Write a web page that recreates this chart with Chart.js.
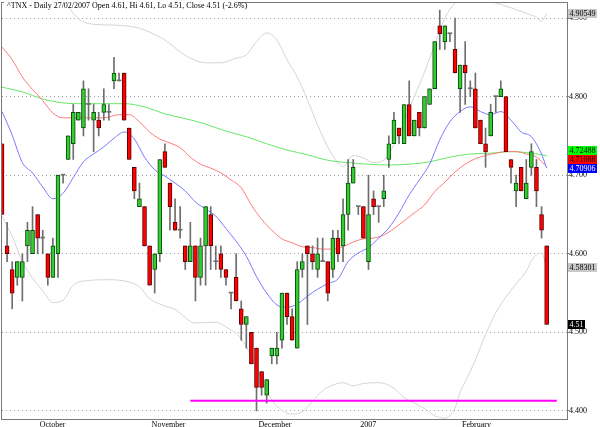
<!DOCTYPE html>
<html>
<head>
<meta charset="utf-8">
<script src="https://cdn.jsdelivr.net/npm/chart.js@4.4.1/dist/chart.umd.min.js"></script>
<style>
  html, body { margin: 0; padding: 0; background: #fff; }
  canvas { display: block; }
</style>
</head>
<body>
<canvas id="tnx" width="600" height="427"></canvas>
<script>
// trading days shown, plus a few empty slots on the right
const dates = [
  '21/09','22/09','25/09','26/09','27/09','28/09','29/09',
  '02/10','03/10','04/10','05/10','06/10','09/10','10/10','11/10','12/10','13/10','16/10','17/10','18/10','19/10','20/10','23/10','24/10','25/10','26/10','27/10','30/10','31/10',
  '01/11','02/11','03/11','06/11','07/11','08/11','09/11','10/11','13/11','14/11','15/11','16/11','17/11','20/11','21/11','22/11','24/11','27/11','28/11','29/11','30/11',
  '01/12','04/12','05/12','06/12','07/12','08/12','11/12','12/12','13/12','14/12','15/12','18/12','19/12','20/12','21/12','22/12','26/12','27/12','28/12','29/12',
  '03/01','04/01','05/01','08/01','09/01','10/01','11/01','12/01','16/01','17/01','18/01','19/01','22/01','23/01','24/01','25/01','26/01','29/01','30/01','31/01',
  '01/02','02/02','05/02','06/02','07/02','08/02','09/02','12/02','13/02','14/02','15/02','16/02','20/02','21/02','22/02','23/02','26/02','27/02',
  '28/02','01/03','02/03','05/03'
];

const open = [4.74,4.61,4.58,4.57,4.57,4.61,4.60,4.65,4.62,4.60,4.57,4.60,4.70,4.72,4.74,4.77,4.76,4.79,4.77,4.77,
  4.78,4.78,4.82,4.82,4.83,4.76,4.71,4.66,4.66,4.61,4.58,4.60,4.73,4.69,4.64,4.63,4.61,4.59,4.61,4.57,
  4.61,4.65,4.59,4.60,4.58,4.55,4.57,4.53,4.51,4.50,4.48,4.45,4.42,4.47,4.47,4.49,4.55,4.52,4.48,4.58,
  4.61,4.60,4.58,4.59,4.59,4.58,4.62,4.61,4.65,4.69,4.66,4.66,4.59,4.67,4.66,4.67,4.72,4.74,4.76,4.74,
  4.79,4.75,4.78,4.76,4.79,4.81,4.89,4.87,4.88,4.86,4.81,4.84,4.81,4.81,4.77,4.74,4.75,4.80,4.80,4.80,
  4.72,4.68,4.71,4.67,4.71,4.71,4.65,4.61];
const high = [4.74,4.64,4.59,4.59,4.60,4.64,4.66,4.65,4.63,4.60,4.62,4.70,4.70,4.75,4.79,4.78,4.82,4.81,4.79,4.78,
  4.81,4.79,4.85,4.83,4.83,4.76,4.71,4.69,4.66,4.61,4.60,4.72,4.74,4.69,4.67,4.66,4.61,4.64,4.61,4.62,
  4.66,4.66,4.61,4.61,4.58,4.55,4.60,4.54,4.52,4.50,4.48,4.45,4.44,4.48,4.50,4.55,4.55,4.53,4.59,4.60,
  4.61,4.61,4.62,4.62,4.59,4.63,4.63,4.67,4.72,4.72,4.66,4.66,4.70,4.68,4.66,4.70,4.75,4.78,4.76,4.79,
  4.82,4.77,4.78,4.80,4.81,4.87,4.91,4.89,4.88,4.90,4.84,4.87,4.82,4.83,4.77,4.76,4.79,4.80,4.82,4.80,
  4.72,4.70,4.71,4.72,4.74,4.72,4.66,4.61];
const low = [4.65,4.59,4.53,4.56,4.54,4.59,4.60,4.60,4.60,4.56,4.57,4.57,4.69,4.72,4.72,4.77,4.75,4.77,4.73,4.75,
  4.77,4.77,4.81,4.82,4.77,4.72,4.67,4.66,4.61,4.56,4.55,4.59,4.71,4.63,4.63,4.62,4.58,4.59,4.54,4.56,
  4.56,4.58,4.58,4.57,4.56,4.53,4.54,4.49,4.48,4.46,4.40,4.42,4.41,4.46,4.46,4.48,4.51,4.49,4.48,4.57,
  4.51,4.58,4.57,4.59,4.54,4.57,4.59,4.59,4.63,4.69,4.65,4.62,4.58,4.65,4.64,4.66,4.71,4.74,4.74,4.74,
  4.75,4.75,4.75,4.76,4.79,4.81,4.86,4.86,4.87,4.83,4.78,4.79,4.80,4.76,4.74,4.71,4.75,4.78,4.80,4.73,
  4.69,4.66,4.68,4.67,4.70,4.66,4.62,4.51];
const close = [4.65,4.60,4.55,4.59,4.59,4.63,4.63,4.62,4.62,4.57,4.61,4.70,4.70,4.75,4.78,4.78,4.81,4.79,4.78,4.76,
  4.79,4.78,4.83,4.82,4.77,4.72,4.68,4.67,4.61,4.56,4.60,4.72,4.71,4.66,4.63,4.63,4.59,4.61,4.57,4.61,
  4.66,4.61,4.59,4.58,4.57,4.55,4.54,4.51,4.52,4.46,4.43,4.43,4.44,4.48,4.48,4.55,4.52,4.49,4.58,4.59,
  4.60,4.59,4.60,4.59,4.55,4.62,4.60,4.65,4.69,4.71,4.66,4.62,4.65,4.66,4.66,4.68,4.74,4.77,4.75,4.79,
  4.75,4.77,4.76,4.80,4.81,4.87,4.88,4.89,4.88,4.83,4.84,4.83,4.81,4.76,4.74,4.73,4.78,4.80,4.81,4.73,
  4.71,4.69,4.68,4.69,4.73,4.68,4.63,4.51];

// overlays, read at the listed day positions
const blueAt = [0,2,4,6,8,10,12,14,16,18,20,22,24,26,28,30,32,34,36,38,40,42,44,46,48,50,52,54,56,58,60,62,64,66,68,70,72,74,76,78,80,82,84,86,88,90,92,94,96,98,100,102,104,106,107];
const blueVal = [4.781,4.751,4.716,4.703,4.685,4.670,4.677,4.697,4.717,4.727,4.736,4.747,4.755,4.746,4.723,4.707,4.699,4.690,4.680,4.666,
  4.657,4.648,4.632,4.616,4.597,4.571,4.550,4.535,4.532,4.536,4.546,4.555,4.562,4.568,4.590,4.601,4.608,4.620,4.633,4.652,
  4.675,4.694,4.714,4.745,4.768,4.781,4.787,4.781,4.777,4.781,4.770,4.755,4.749,4.727,4.70906];
const redAt = [0,2,4,6,8,10,12,16,20,23,25,27,29,31,33,35,37,39,41,43,45,47,49,51,53,55,57,59,61,63,65,67,69,71,73,75,77,79,81,83,85,87,89,91,93,95,97,99,101,103,105,107];
const redVal = [4.863,4.847,4.825,4.809,4.795,4.779,4.773,4.773,4.773,4.777,4.777,4.768,4.755,4.746,4.741,4.735,4.723,4.714,4.709,4.703,
  4.694,4.684,4.662,4.644,4.630,4.619,4.614,4.609,4.608,4.606,4.606,4.609,4.615,4.619,4.620,4.624,4.632,4.642,4.652,4.662,
  4.679,4.691,4.704,4.714,4.721,4.725,4.728,4.730,4.730,4.727,4.723,4.71088];
const greenAt = [0,4,8,12,16,20,24,28,32,36,40,44,48,52,56,60,64,68,72,76,80,84,88,92,96,100,104,107];
const greenVal = [4.812,4.806,4.797,4.792,4.791,4.791,4.791,4.787,4.778,4.772,4.765,4.756,4.749,4.740,4.732,4.726,4.719,4.716,4.714,4.713,
  4.714,4.717,4.723,4.727,4.728,4.730,4.728,4.72488];
const upperAt = [0,6,10,11,13,15,18,22,27,29,32,35,37,40,43,46,48,50,52,54,56,58,60,62,64,66,67,69,71,73,75,77,79,81,83,85,87,89,91,94,97,100,103,105,106,107];
const upperVal = [5.02,4.98,4.94,4.933,4.915,4.899,4.892,4.891,4.887,4.882,4.872,4.857,4.849,4.843,4.843,4.849,4.853,4.870,4.881,4.872,
  4.847,4.825,4.796,4.764,4.736,4.716,4.711,4.725,4.722,4.716,4.719,4.739,4.768,4.800,4.831,4.866,4.900,4.919,4.926,4.923,
  4.919,4.913,4.906,4.901,4.896,4.90549];
const lowerAt = [0,2,4,6,8,10,12,14,17,21,25,27,29,31,34,38,42,44,47,49,51,53,55,57,59,61,63,65,67,69,71,74,77,79,81,83,85,87,89,90,91,93,95,97,99,101,103,104,105,106,107];
const lowerVal = [4.648,4.622,4.590,4.569,4.553,4.538,4.541,4.560,4.566,4.567,4.564,4.558,4.543,4.536,4.529,4.512,4.513,4.507,4.492,4.469,
  4.440,4.414,4.401,4.396,4.399,4.412,4.426,4.433,4.436,4.432,4.435,4.436,4.429,4.417,4.410,4.403,4.394,4.391,4.404,4.424,
  4.437,4.465,4.497,4.525,4.545,4.562,4.578,4.591,4.599,4.601,4.58301];

const supportLevel = 4.413;
const supportFrom = 37, supportTo = 109;

const monthAt = [7, 29, 50, 70, 90];
const monthName = ['October', 'November', 'December', '2007', 'February'];
const yTicks = [4.4, 4.5, 4.6, 4.7, 4.8, 4.9];

const titleText = '^TNX - Daily 27/02/2007 Open 4.61, Hi 4.61, Lo 4.51, Close 4.51 (-2.6%)';

const FONT = '"Liberation Serif", "DejaVu Serif", serif';

function pts(at, vals) {
  return at.map((i, k) => ({ x: dates[i], y: vals[k] }));
}

function lineSet(data, color, order) {
  return {
    type: 'line', data: data, borderColor: color, borderWidth: 1,
    pointRadius: 0, fill: false, cubicInterpolationMode: 'monotone', order: order
  };
}

const upFill = '#33cc33', downFill = '#ff0000', dojiColor = '#6e6e6e';

const decor = {
  id: 'decor',
  afterDraw(chart) {
    const { ctx, chartArea: a } = chart;
    const y = chart.scales.y;
    ctx.save();
    ctx.strokeStyle = '#7a7a7a';
    ctx.lineWidth = 1;
    ctx.strokeRect(a.left - 0.5, a.top - 0.5, a.right - a.left + 1, a.bottom - a.top + 1);

    ctx.fillStyle = '#fff';
    ctx.fillRect(4, 0, 234, 8);
    ctx.font = '8px ' + FONT;
    ctx.fillStyle = '#000';
    ctx.textBaseline = 'alphabetic';
    ctx.textAlign = 'left';
    ctx.fillText(titleText, 7, 8);

    // last-value tags on the right
    const tags = [
      { v: upperVal[upperVal.length - 1], t: upperVal[upperVal.length - 1].toFixed(5), bg: '#c8c8c8', fg: '#000' },
      { v: greenVal[greenVal.length - 1], t: greenVal[greenVal.length - 1].toFixed(5), bg: '#00ff00', fg: '#000' },
      { v: redVal[redVal.length - 1], t: redVal[redVal.length - 1].toFixed(5), bg: '#ff0000', fg: '#000' },
      { v: blueVal[blueVal.length - 1], t: blueVal[blueVal.length - 1].toFixed(5), bg: '#0000ff', fg: '#fff' },
      { v: lowerVal[lowerVal.length - 1], t: lowerVal[lowerVal.length - 1].toFixed(5), bg: '#c8c8c8', fg: '#000' },
      { v: close[close.length - 1], t: close[close.length - 1].toFixed(2), bg: '#000', fg: '#fff' }
    ];
    tags.forEach(g => g.py = y.getPixelForValue(g.v));
    tags.sort((p, q) => q.py - p.py);
    let prev = Infinity;
    ctx.textBaseline = 'middle';
    tags.forEach(g => {
      const c = Math.min(g.py, prev - 9);
      prev = c;
      const w = ctx.measureText(g.t).width + 3;
      ctx.fillStyle = g.bg;
      ctx.fillRect(a.right + 1, Math.round(c - 4.5), w, 9);
      ctx.fillStyle = g.fg;
      ctx.fillText(g.t, a.right + 2.5, Math.round(c - 4.5) + 5);
    });
    ctx.restore();
  }
};

new Chart(document.getElementById('tnx'), {
  type: 'bar',
  data: {
    labels: dates,
    datasets: [
      {
        label: 'body',
        data: open.map((o, i) => [o, close[i]]),
        backgroundColor: close.map((c, i) => c > open[i] ? upFill : c < open[i] ? downFill : dojiColor),
        borderColor: close.map((c, i) => c > open[i] ? '#0a4a0a' : '#5a0000'),
        borderWidth: close.map((c, i) => c === open[i] ? 0 : 1),
        borderSkipped: false,
        barThickness: 4,
        minBarLength: 1,
        grouped: false,
        order: 0
      },
      {
        label: 'wick',
        data: low.map((l, i) => [l, high[i]]),
        backgroundColor: '#6e6e6e',
        borderWidth: 0,
        barThickness: 1,
        minBarLength: 1,
        grouped: false,
        order: 1
      },
      lineSet(pts(blueAt, blueVal), '#7878ff', 2),
      lineSet(pts(redAt, redVal), '#ff7a7a', 2),
      lineSet(pts(greenAt, greenVal), '#66e866', 2),
      lineSet(pts(upperAt, upperVal), '#d4d4d4', 3),
      lineSet(pts(lowerAt, lowerVal), '#d4d4d4', 3),
      {
        type: 'line',
        data: [{ x: dates[supportFrom], y: supportLevel }, { x: dates[supportTo], y: supportLevel }],
        borderColor: '#ff00ff', borderWidth: 2, pointRadius: 0, fill: false, order: -1
      }
    ]
  },
  options: {
    responsive: false,
    animation: false,
    events: [],
    layout: { padding: { left: 2, top: 3, right: 0, bottom: 0 } },
    plugins: { legend: { display: false }, tooltip: { enabled: false } },
    scales: {
      x: {
        type: 'category',
        offset: false,
        border: { display: false, dash: [1, 3] },
        grid: {
          color: c => monthAt.includes(c.index) ? '#a0a0a0' : 'rgba(0,0,0,0)',
          tickColor: c => monthAt.includes(c.index) ? '#7a7a7a' : 'rgba(0,0,0,0)',
          tickLength: 7,
          tickBorderDash: []
        },
        ticks: {
          autoSkip: false,
          maxRotation: 0,
          align: 'start',
          labelOffset: 2,
          padding: -6,
          color: '#000',
          font: { family: FONT, size: 8 },
          callback: (v, i) => {
            const k = monthAt.indexOf(i);
            return k < 0 ? null : monthName[k];
          }
        },
        afterFit: s => { s.height = 8; s.paddingLeft = 0; s.paddingRight = 0; }
      },
      y: {
        position: 'right',
        min: 4.3898,
        max: 4.9191,
        border: { display: false, dash: [1, 3] },
        grid: { color: '#a0a0a0', tickColor: '#7a7a7a', tickLength: 2, tickBorderDash: [] },
        afterBuildTicks: s => { s.ticks = yTicks.map(v => ({ value: v })); },
        ticks: {
          padding: 0,
          color: '#000',
          font: { family: FONT, size: 8 },
          callback: v => v.toFixed(3)
        },
        afterFit: s => { s.width = 33; s.paddingTop = 0; s.paddingBottom = 0; }
      }
    }
  },
  plugins: [decor]
});
</script>
</body>
</html>
